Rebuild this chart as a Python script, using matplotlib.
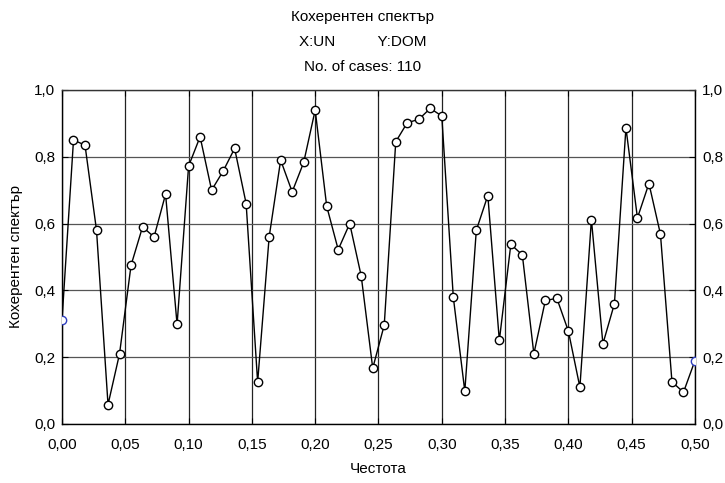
import numpy as np
import matplotlib
matplotlib.use("Agg")
import matplotlib.pyplot as plt
from matplotlib.ticker import FuncFormatter, MultipleLocator

n_cases = 110
coherency = [0.31, 0.85, 0.835, 0.58, 0.058, 0.21, 0.475, 0.59, 0.56, 0.688,
             0.298, 0.772, 0.86, 0.70, 0.757, 0.825, 0.66, 0.125, 0.56, 0.79,
             0.695, 0.783, 0.94, 0.652, 0.522, 0.60, 0.443, 0.167, 0.296, 0.845,
             0.902, 0.912, 0.945, 0.922, 0.38, 0.098, 0.58, 0.684, 0.25, 0.538,
             0.506, 0.21, 0.37, 0.376, 0.278, 0.11, 0.612, 0.24, 0.36, 0.887,
             0.617, 0.72, 0.568, 0.126, 0.095, 0.19]
freq = np.arange(len(coherency)) / n_cases
coherency = np.array(coherency)

plt.rcParams['font.family'] = ['Liberation Sans Narrow', 'Liberation Sans', 'DejaVu Sans']

fig = plt.figure(figsize=(7.25, 4.83), dpi=100)
ax = fig.add_axes([0.0855, 0.1222, 0.8731, 0.6915])

ax.plot(freq, coherency, color='black', lw=1.0, zorder=3)
ax.plot(freq[1:-1], coherency[1:-1], ls='none', marker='o', ms=6,
        mfc='white', mec='black', mew=1.0, zorder=4)
ax.plot(freq[[0, -1]], coherency[[0, -1]], ls='none', marker='o', ms=6,
        mfc='white', mec='#2f3fbf', mew=1.0, zorder=4)

ax.set_xlim(0, 0.5)
ax.set_ylim(0, 1.0)
ax.xaxis.set_major_locator(MultipleLocator(0.05))
ax.yaxis.set_major_locator(MultipleLocator(0.2))
ax.xaxis.set_major_formatter(FuncFormatter(lambda v, p: f"{v:.2f}".replace('.', ',')))
ax.yaxis.set_major_formatter(FuncFormatter(lambda v, p: f"{v:.1f}".replace('.', ',')))
ax.tick_params(axis='both', labelsize=11, length=4, width=0.8, color='black',
               top=True, right=True, labelright=True, direction='in')
ax.tick_params(axis='x', pad=10)
ax.tick_params(axis='y', pad=5)
ax.grid(axis='x', color='#222222', lw=0.9)
ax.grid(axis='y', color='#555555', lw=0.9)
for s in ax.spines.values():
    s.set_color('black')
    s.set_linewidth(1.0)
ax.spines['top'].set_color('#333333')

ax.set_xlabel('Честота', fontsize=11, labelpad=7)
ax.set_ylabel('Кохерентен спектър', fontsize=11, labelpad=8)

fig.text(0.5, 0.965, 'Кохерентен спектър', ha='center', va='center', fontsize=11)
fig.text(0.5, 0.913, 'X:UN          Y:DOM', ha='center', va='center', fontsize=11)
fig.text(0.5, 0.861, 'No. of cases: 110', ha='center', va='center', fontsize=11)

fig.savefig('out.png', dpi=100, facecolor='white')
